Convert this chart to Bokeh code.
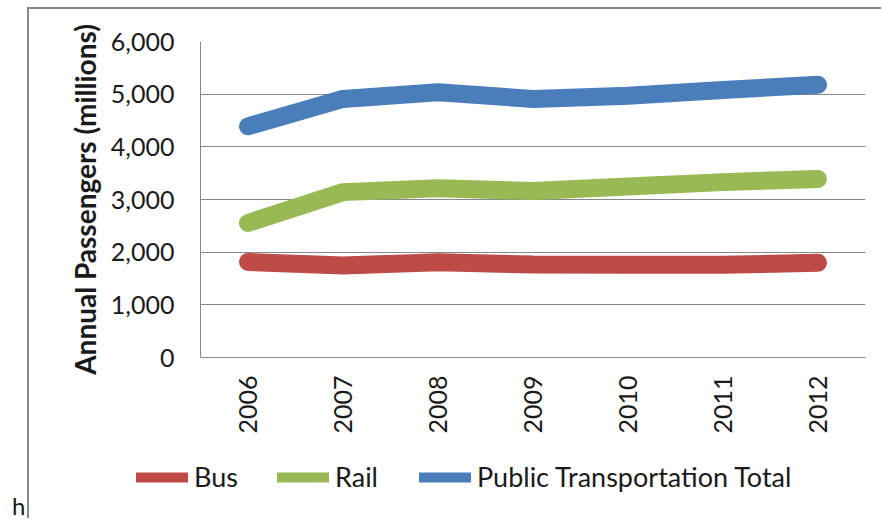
import math
from bokeh.plotting import figure
from bokeh.layouts import row, column
from bokeh.models import (Legend, LegendItem, Div,
                          NumeralTickFormatter, FixedTicker, FactorRange, Range1d)
from bokeh.embed import file_html
from bokeh.resources import INLINE

years = ["2006", "2007", "2008", "2009", "2010", "2011", "2012"]
bus = [1815, 1745, 1810, 1765, 1760, 1760, 1800]
rail = [2555, 3140, 3215, 3160, 3245, 3330, 3390]
total = [4390, 4910, 5035, 4910, 4970, 5080, 5180]
y_ticks = [0, 1000, 2000, 3000, 4000, 5000, 6000]
series_names = ["Bus", "Rail", "Public Transportation Total"]
colors = ["#BE4B48", "#98B954", "#4A7EBB"]

FONT = "Lato"
GRAY = "#878787"
TXT = "#1a1a1a"

p = figure(x_range=FactorRange(factors=years, range_padding=0),
           y_range=Range1d(0, 6000),
           width=854, height=441, output_backend="svg", toolbar_location=None,
           min_border_left=171, min_border_right=18, min_border_top=32,
           min_border_bottom=93)
p.frame_align = False
p.background_fill_color = "white"
p.border_fill_color = "white"
p.outline_line_color = None

# axes
p.yaxis.ticker = FixedTicker(ticks=y_ticks)
p.yaxis.formatter = NumeralTickFormatter(format="0,0")
p.yaxis.major_tick_in = 0
p.yaxis.major_tick_out = 0
p.yaxis.minor_tick_line_color = None
p.yaxis.axis_line_color = GRAY
p.yaxis.major_label_standoff = 26
p.yaxis.major_label_text_font = FONT
p.yaxis.major_label_text_font_size = "25px"
p.yaxis.major_label_text_color = TXT
p.yaxis.axis_label = "Annual Passengers (millions)"
p.yaxis.axis_label_text_font = FONT
p.yaxis.axis_label_text_font_style = "bold"
p.yaxis.axis_label_text_font_size = "28px"
p.yaxis.axis_label_text_color = TXT
p.yaxis.axis_label_standoff = 6

p.xaxis.major_tick_in = 0
p.xaxis.major_tick_out = 0
p.xaxis.axis_line_color = GRAY
p.xaxis.major_label_orientation = math.pi / 2
p.xaxis.major_label_standoff = 18
p.xaxis.major_label_text_font = FONT
p.xaxis.major_label_text_font_size = "25px"
p.xaxis.major_label_text_color = TXT

p.xgrid.grid_line_color = None
p.ygrid.grid_line_color = GRAY
p.ygrid.grid_line_width = 1

# data lines
for vals, c in zip([bus, rail, total], colors):
    p.line(x=years, y=vals, line_color=c, line_width=18,
           line_join="round", line_cap="round")

# legend strip below the chart; its proxy lines lie outside its visible range
pl = figure(x_range=FactorRange(factors=years, range_padding=0),
            y_range=Range1d(-2000, -1000),
            width=854, height=70, output_backend="svg", toolbar_location=None,
            x_axis_type=None, y_axis_type=None, min_border=0)
pl.frame_align = False
pl.xgrid.grid_line_color = None
pl.ygrid.grid_line_color = None
pl.outline_line_color = None
pl.background_fill_color = "white"
pl.border_fill_color = "white"

legend_x = [107, 248, 390]
for name, c, vals, lx in zip(series_names, colors, [bus, rail, total], legend_x):
    r = pl.line(x=years, y=vals, line_color=c, line_width=10, line_cap="round")
    lg = Legend(items=[LegendItem(label=name, renderers=[r])],
                orientation="horizontal", location=(lx, 27),
                glyph_width=52, glyph_height=24, label_standoff=6,
                label_text_font=FONT, label_text_font_size="27px",
                label_text_color=TXT, border_line_color=None,
                background_fill_alpha=0, padding=0, margin=0)
    pl.add_layout(lg, "center")

chart = column(p, pl)
chart.margin = (9, 0, 0, 0)
chart.styles = {"box-shadow": "-2px -2px 0 0 #878787"}

stray = Div(text='<div style="padding-top:494px;padding-left:12px;'
                 'font-family:Lato;font-size:24px;line-height:24px;'
                 'color:#1a1a1a;">h</div>',
            width=29, height=520, margin=(0, 0, 0, 0))

layout = row(stray, chart)
open("out.html", "w").write(file_html(layout, INLINE))
